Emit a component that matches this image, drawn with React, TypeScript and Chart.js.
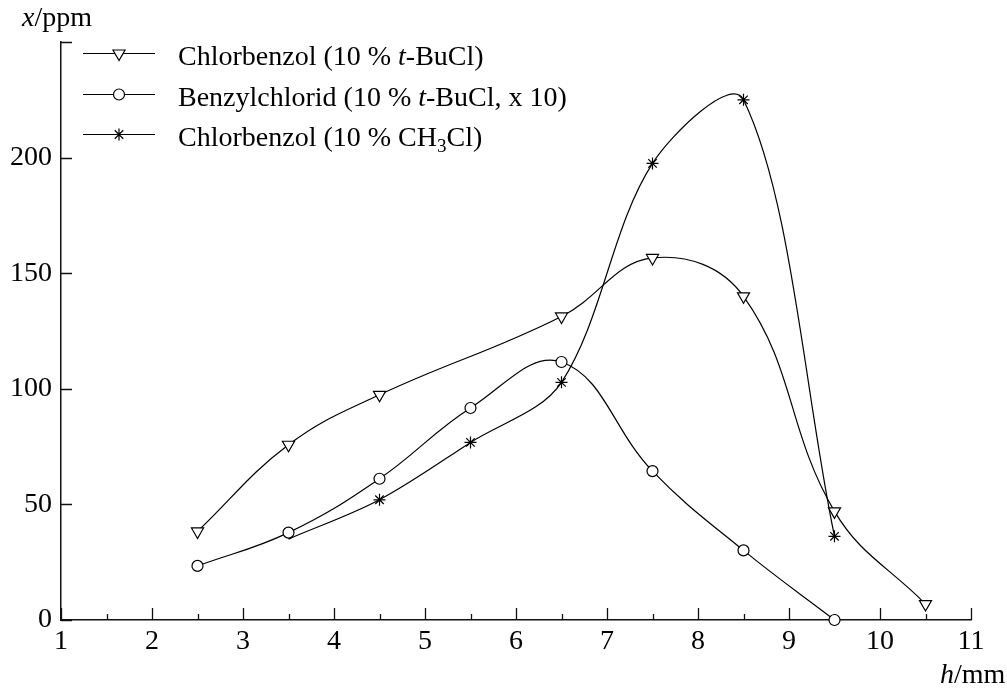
import React, { useEffect, useRef } from 'react';
import { Chart, registerables } from 'chart.js';
import { drawPoint } from 'chart.js/helpers';

Chart.register(...registerables);

// ---- data ----
const hChlorTBu = [2.5, 3.5, 4.5, 6.5, 7.5, 8.5, 9.5, 10.5];
const ppmChlorTBu = [38.3, 75.8, 97.4, 131.3, 156.6, 140, 47, 6.9];

const hBenzyl = [2.5, 3.5, 4.5, 5.5, 6.5, 7.5, 8.5, 9.5];
const ppmBenzyl = [23.4, 37.8, 61.1, 91.7, 111.6, 64.4, 30.1, 0];

const hChlorCH3 = [3.5, 4.5, 5.5, 6.5, 7.5, 8.5, 9.5];
const ppmChlorCH3 = [35, 52, 76.8, 102.8, 197.5, 225, 36.2];
const markerShownCH3 = [false, true, true, true, true, true, true];

const xTickValues = [1, 2, 3, 4, 5, 6, 7, 8, 9, 10, 11];
const xMinorTickValues = [1.5, 2.5, 3.5, 4.5, 5.5, 6.5, 7.5, 8.5, 9.5, 10.5];
const yTickValues = [0, 50, 100, 150, 200, 250];
const yLabeledTicks = [0, 50, 100, 150, 200];

type Seg = { t: string; style?: 'i' | 'sub' };
const legendEntries: { segs: Seg[]; pointStyle: string; rotation: number; radius: number }[] = [
  { segs: [{ t: 'Chlorbenzol (10 % ' }, { t: 't', style: 'i' }, { t: '-BuCl)' }], pointStyle: 'triangle', rotation: 180, radius: 7 },
  { segs: [{ t: 'Benzylchlorid (10 % ' }, { t: 't', style: 'i' }, { t: '-BuCl, x 10)' }], pointStyle: 'circle', rotation: 0, radius: 5.5 },
  { segs: [{ t: 'Chlorbenzol (10 % CH' }, { t: '3', style: 'sub' }, { t: 'Cl)' }], pointStyle: 'star', rotation: 0, radius: 6 },
];

const FONT = '"Liberation Serif", "Times New Roman", serif';

const toPts = (xs: number[], ys: number[]) => xs.map((x, i) => ({ x, y: ys[i] }));

const decorPlugin = {
  id: 'decor',
  beforeDatasetsDraw(chart: any) {
    const ctx = chart.ctx;
    const xs = chart.scales.x;
    const ys = chart.scales.y;
    const bottom = chart.chartArea.bottom;
    const left = chart.chartArea.left;
    ctx.save();
    ctx.strokeStyle = '#111';
    ctx.lineWidth = 1.3;
    ctx.beginPath();
    xTickValues.forEach((v) => {
      const px = Math.round(xs.getPixelForValue(v)) + 0.5;
      ctx.moveTo(px, bottom);
      ctx.lineTo(px, bottom - 12);
    });
    xMinorTickValues.forEach((v) => {
      const px = Math.round(xs.getPixelForValue(v)) + 0.5;
      ctx.moveTo(px, bottom);
      ctx.lineTo(px, bottom - 6);
    });
    yTickValues.forEach((v) => {
      const py = Math.round(ys.getPixelForValue(v)) + 0.5;
      ctx.moveTo(left, py);
      ctx.lineTo(left + 11, py);
    });
    ctx.stroke();
    ctx.restore();
  },
  afterDraw(chart: any) {
    const ctx = chart.ctx;
    ctx.save();
    ctx.fillStyle = '#000';
    ctx.textBaseline = 'alphabetic';
    ctx.textAlign = 'left';

    const drawSegs = (segs: Seg[], x: number, y: number, size: number) => {
      let cx = x;
      segs.forEach((s) => {
        if (s.style === 'i') {
          ctx.font = `italic ${size}px ${FONT}`;
          ctx.fillText(s.t, cx, y);
        } else if (s.style === 'sub') {
          ctx.font = `${Math.round(size * 0.68)}px ${FONT}`;
          ctx.fillText(s.t, cx, y + size * 0.22);
        } else {
          ctx.font = `${size}px ${FONT}`;
          ctx.fillText(s.t, cx, y);
        }
        cx += ctx.measureText(s.t).width;
      });
    };
    // axis titles
    drawSegs([{ t: 'x', style: 'i' }, { t: '/ppm' }], 22, 26, 28);
    drawSegs([{ t: 'h', style: 'i' }, { t: '/mm' }], 940, 683, 28);

    // legend
    const rowYs = [53.5, 94.5, 134.5];
    legendEntries.forEach((e, i) => {
      const y = rowYs[i];
      ctx.strokeStyle = '#000';
      ctx.lineWidth = 1.2;
      ctx.beginPath();
      ctx.moveTo(83, y);
      ctx.lineTo(155, y);
      ctx.stroke();
      ctx.fillStyle = '#fff';
      ctx.strokeStyle = '#000';
      drawPoint(ctx, { pointStyle: e.pointStyle as any, rotation: e.rotation, radius: e.radius, borderWidth: 1.2 }, 119, y);
      ctx.fillStyle = '#000';
      drawSegs(e.segs, 178, y + 11.5, 28);
    });
    ctx.restore();
  },
};

export default function App() {
  const ref = useRef<HTMLCanvasElement | null>(null);
  useEffect(() => {
    if (!ref.current) return;
    const common = {
      borderColor: '#000',
      borderWidth: 1.2,
      pointBackgroundColor: '#fff',
      pointBorderColor: '#000',
      pointBorderWidth: 1.2,
      tension: 0.4,
      clip: false as any,
      fill: false,
    };
    const chart = new Chart(ref.current, {
      type: 'line',
      data: {
        datasets: [
          {
            ...common,
            label: 'Chlorbenzol (10 % t-BuCl)',
            data: toPts(hChlorTBu, ppmChlorTBu),
            pointStyle: 'triangle',
            pointRotation: 180,
            pointRadius: 7,
          },
          {
            ...common,
            label: 'Benzylchlorid (10 % t-BuCl, x 10)',
            data: toPts(hBenzyl, ppmBenzyl),
            pointStyle: 'circle',
            pointRadius: 5.5,
          },
          {
            ...common,
            label: 'Chlorbenzol (10 % CH3Cl)',
            data: toPts(hChlorCH3, ppmChlorCH3),
            pointStyle: 'star',
            tension: 0.33,
            pointRadius: markerShownCH3.map((s) => (s ? 6 : 0)),
          },
        ],
      },
      options: {
        animation: false,
        responsive: false,
        layout: { padding: { left: 0, top: 42, right: 36, bottom: 0 } },
        plugins: { legend: { display: false }, tooltip: { enabled: false } },
        scales: {
          x: {
            type: 'linear',
            min: 1,
            max: 11,
            grid: { display: false, drawTicks: false, tickLength: 0 },
            border: { display: true, color: '#111', width: 1.5 },
            afterFit: (s: any) => { s.height = 68; },
            afterBuildTicks: (s: any) => { s.ticks = xTickValues.map((v) => ({ value: v })); },
            ticks: { color: '#000', font: { family: FONT, size: 28 }, padding: 5, maxRotation: 0, autoSkip: false },
          },
          y: {
            type: 'linear',
            min: 0,
            max: 250,
            grid: { display: false, drawTicks: false, tickLength: 0 },
            border: { display: true, color: '#111', width: 1.5 },
            afterFit: (s: any) => { s.width = 61; },
            afterBuildTicks: (s: any) => { s.ticks = yTickValues.map((v) => ({ value: v })); },
            ticks: {
              color: '#000',
              font: { family: FONT, size: 28 },
              padding: 9,
              callback: (v: any) => (yLabeledTicks.includes(Number(v)) ? String(v) : ''),
            },
          },
        },
      },
      plugins: [decorPlugin],
    });
    return () => chart.destroy();
  }, []);
  return (
    <div style={{ position: 'absolute', left: 0, top: 0, width: 1007, height: 688, background: '#fff' }}>
      <canvas ref={ref} width={1007} height={688} style={{ width: 1007, height: 688, display: 'block' }} />
    </div>
  );
}
